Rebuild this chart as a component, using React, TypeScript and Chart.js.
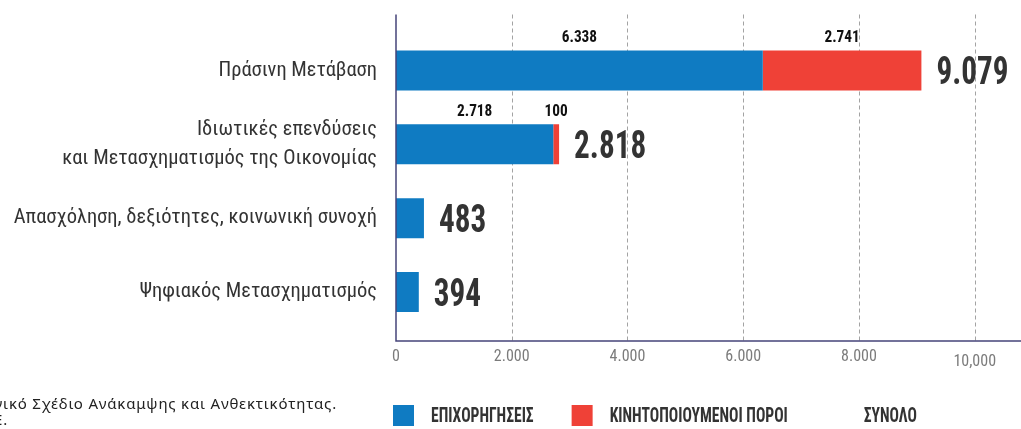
import React, { useEffect, useRef } from "react";
import { Chart, registerables } from "chart.js";

Chart.register(...registerables);

// ---------- data ----------
const categories: string[][] = [
  ["Πράσινη Μετάβαση"],
  ["Ιδιωτικές επενδύσεις", "και Μετασχηματισμός της Οικονομίας"],
  ["Απασχόληση, δεξιότητες, κοινωνική συνοχή"],
  ["Ψηφιακός Μετασχηματισμός"],
];
const grants: number[] = [6338, 2718, 483, 394];
const mobilised: number[] = [2741, 100, 0, 0];
const totals: number[] = [9079, 2818, 483, 394];
const xTickValues: number[] = [0, 2000, 4000, 6000, 8000, 10000];
const xTickLabels: string[] = ["0", "2.000", "4.000", "6.000", "8.000", "10,000"];
const seriesNames: string[] = ["ΕΠΙΧΟΡΗΓΗΣΕΙΣ", "ΚΙΝΗΤΟΠΟΙΟΥΜΕΝΟΙ ΠΟΡΟΙ"];
const totalName = "ΣΥΝΟΛΟ";
const sourceLines: string[] = [
  "Πηγή: Εθνικό Σχέδιο Ανάκαμψης και Ανθεκτικότητας.",
  "Επεξεργασία: ΚΕΠΕ.",
];
const X_MAX = 10800;

// ---------- styles ----------
const BLUE = "#0f7bc2";
const RED = "#ef4137";
const AXIS = "#46447a";
const NARROW =
  "'Liberation Sans Narrow', 'Roboto Condensed', 'DejaVu Sans Condensed', 'Arial Narrow', sans-serif";

const fmt = (v: number) => String(v).replace(/\B(?=(\d{3})+(?!\d))/g, ".");

function drawCondensed(ctx: any, text: string, x: number, y: number, sx: number, align: string) {
  ctx.save();
  ctx.translate(x, y);
  ctx.scale(sx, 1);
  ctx.textAlign = align;
  ctx.fillText(text, 0, 0);
  ctx.restore();
}

const framePlugin = {
  id: "frame",
  beforeDatasetsDraw(chart: any) {
    const { ctx, chartArea, scales } = chart;
    const x = scales.x;
    const top = chartArea.top - 19;
    const base = chartArea.bottom + 12;
    ctx.save();
    ctx.strokeStyle = "#a3a3a3";
    ctx.lineWidth = 1;
    ctx.setLineDash([4, 3]);
    xTickValues.forEach((v) => {
      if (v === 0) return;
      const px = Math.round(x.getPixelForValue(v)) + 0.5;
      ctx.beginPath();
      ctx.moveTo(px, top);
      ctx.lineTo(px, base);
      ctx.stroke();
    });
    ctx.restore();
  },
  afterDatasetsDraw(chart: any) {
    const { ctx, chartArea } = chart;
    const top = chartArea.top - 19;
    const base = chartArea.bottom + 12;
    ctx.save();
    ctx.strokeStyle = AXIS;
    ctx.lineWidth = 1.5;
    ctx.beginPath();
    ctx.moveTo(chartArea.left, top);
    ctx.lineTo(chartArea.left, base);
    ctx.lineTo(chart.width, base);
    ctx.stroke();
    ctx.restore();
  },
};

const valuePlugin = {
  id: "values",
  afterDatasetsDraw(chart: any) {
    const { ctx } = chart;
    const m0 = chart.getDatasetMeta(0).data;
    const m1 = chart.getDatasetMeta(1).data;
    ctx.save();
    categories.forEach((_, i) => {
      const a = m0[i];
      const b = m1[i];
      const barTop = a.y - a.height / 2;
      ctx.textBaseline = "alphabetic";
      if (mobilised[i] > 0) {
        ctx.font = `bold 17px ${NARROW}`;
        ctx.fillStyle = "#111111";
        drawCondensed(ctx, fmt(grants[i]), (a.base + a.x) / 2, barTop - 8, 0.9, "center");
        drawCondensed(ctx, fmt(mobilised[i]), (b.base + b.x) / 2, barTop - 8, 0.9, "center");
      }
      const end = Math.max(a.x, b.x);
      const size = 39;
      ctx.font = `bold ${size}px ${NARROW}`;
      ctx.fillStyle = "#333333";
      drawCondensed(ctx, fmt(totals[i]), end + 15, a.y + size * 0.36, 0.8, "left");
    });
    ctx.restore();
  },
};

const legendPlugin = {
  id: "legendRow",
  afterDraw(chart: any) {
    const { ctx, chartArea } = chart;
    const items = [
      ...chart.data.datasets.map((d: any) => ({ text: d.label, color: d.backgroundColor })),
      { text: totalName, color: "rgba(0,0,0,0)" },
    ];
    const sx = 0.78;
    let x = chartArea.left - 3;
    const boxTop = chart.height - 24;
    ctx.save();
    ctx.font = `bold 20px ${NARROW}`;
    ctx.textBaseline = "middle";
    items.forEach((it: any) => {
      ctx.fillStyle = it.color;
      ctx.fillRect(x, boxTop, 21, 21);
      const tx = x + 21 + 17;
      ctx.fillStyle = "#333333";
      drawCondensed(ctx, it.text, tx, boxTop + 11.5, sx, "left");
      x = tx + ctx.measureText(it.text).width * sx + 38;
    });
    ctx.restore();
  },
};

export default function App() {
  const ref = useRef<HTMLCanvasElement>(null);

  useEffect(() => {
    if (!ref.current) return;
    const chart = new Chart(ref.current, {
      type: "bar",
      data: {
        labels: categories,
        datasets: [
          {
            label: seriesNames[0],
            data: grants,
            backgroundColor: BLUE,
            borderWidth: 0,
            categoryPercentage: 1,
            barPercentage: 0.54,
          },
          {
            label: seriesNames[1],
            data: mobilised,
            backgroundColor: RED,
            borderWidth: 0,
            categoryPercentage: 1,
            barPercentage: 0.54,
          },
        ],
      },
      options: {
        responsive: false,
        animation: false,
        indexAxis: "y",
        layout: { padding: { top: 25, right: 0, bottom: 0, left: 0 } },
        plugins: {
          legend: { display: false },
          tooltip: { enabled: false },
        },
        scales: {
          x: {
            type: "linear",
            min: 0,
            max: X_MAX,
            stacked: true,
            grid: { display: false, drawTicks: false },
            border: { display: false },
            afterBuildTicks: (s: any) => {
              s.ticks = xTickValues.map((v) => ({ value: v }));
            },
            afterFit: (s: any) => {
              s.height = 100;
            },
            ticks: {
              padding: 18,
              color: "#7b7b7b",
              autoSkip: false,
              maxRotation: 0,
              font: (c: any) => ({
                family: NARROW,
                size: 16,
                lineHeight: c.tick && c.tick.value === 10000 ? "30px" : "19px",
              }),
              callback: (_v: any, i: number) => xTickLabels[i],
            },
          },
          y: {
            type: "category",
            stacked: true,
            grid: { display: false, drawTicks: false },
            border: { display: false },
            afterFit: (s: any) => {
              s.width = 396;
            },
            ticks: {
              padding: 19,
              color: "#333333",
              autoSkip: false,
              font: { family: NARROW, size: 20.5, lineHeight: "29px" },
            },
          },
        },
      } as any,
      plugins: [framePlugin, valuePlugin, legendPlugin],
    });
    return () => chart.destroy();
  }, []);

  const srcStyle: React.CSSProperties = {
    position: "absolute",
    whiteSpace: "nowrap",
    fontFamily: "'Noto Sans', sans-serif",
    fontSize: 15,
    letterSpacing: "0.8px",
    lineHeight: "15px",
    color: "#222222",
  };

  return (
    <div
      style={{
        position: "absolute",
        left: 0,
        top: 0,
        width: 1021,
        height: 429,
        overflow: "hidden",
        background: "#ffffff",
      }}
    >
      <canvas
        ref={ref}
        width={1021}
        height={429}
        style={{ position: "absolute", left: 0, top: 0, width: 1021, height: 429 }}
      />
      <div style={{ ...srcStyle, right: 1021 - 337, top: 396 }}>{sourceLines[0]}</div>
      <div style={{ ...srcStyle, right: 1021 - 8, top: 412 }}>{sourceLines[1]}</div>
    </div>
  );
}
